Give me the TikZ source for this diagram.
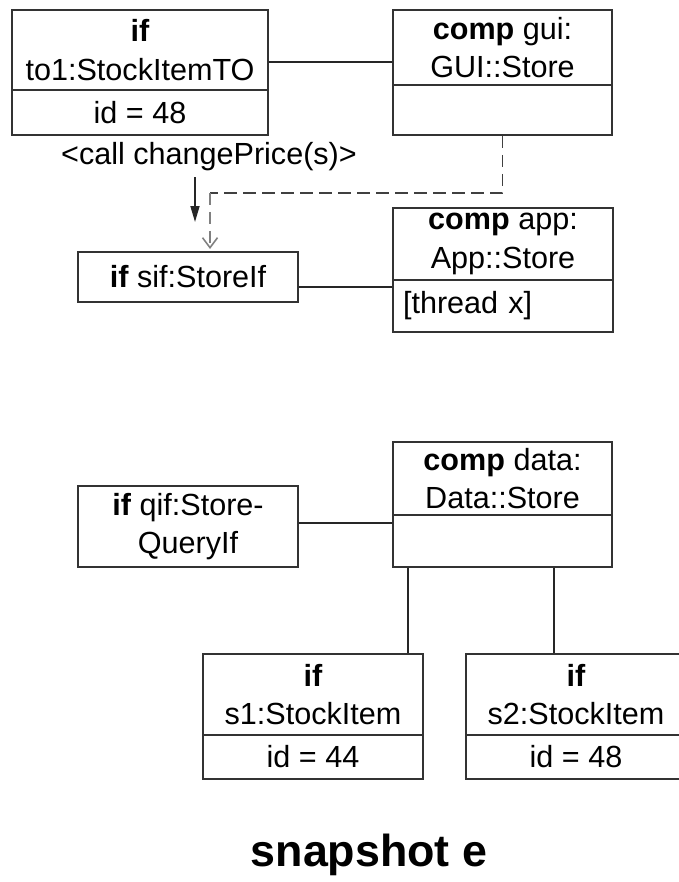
\documentclass[tikz,border=0pt]{standalone}
\usepackage{fontspec}
\setmainfont{Liberation Sans}
\usetikzlibrary{arrows.meta}
\tikzset{
  part/.style={draw=black!80, line width=0.9pt, inner sep=0pt, align=center,
    font=\fontsize{17.4}{22}\selectfont},
  link/.style={draw=black!85, line width=0.9pt},
  dep/.style={draw=black!75, line width=0.9pt, dash pattern=on 0.25cm off 0.13cm},
}
\begin{document}
\begin{tikzpicture}[x=0.02cm,y=-0.02cm]
  \useasboundingbox (0,0) rectangle (679,882);

  % upper snapshot part
  \node[part, minimum width=5.12cm, minimum height=1.6cm] (to1h) at (140,50) {\textbf{if}\\to1:StockItemTO};
  \node[part, minimum width=5.12cm, minimum height=0.9cm] (to1b) at (140,112.5) {id = 48};
  \node[part, minimum width=4.38cm, minimum height=1.5cm] (guih) at (502.5,47.5) {\textbf{comp} gui:\\GUI::Store};
  \node[part, minimum width=4.38cm, minimum height=1cm] (guib) at (502.5,110) {};

  \node[font=\fontsize{17.4}{22}\selectfont] (call) at (209,157) {<call changePrice(s)>};
  \coordinate (callend) at (195,222);
  \coordinate (bend) at (210,193);
  \coordinate (sifin) at (210,249);

  \node[part, minimum width=4.4cm, minimum height=1cm] (sif) at (188,277) {\textbf{if} sif:StoreIf};
  \node[part, minimum width=4.4cm, minimum height=1.44cm] (apph) at (503,244) {\textbf{comp} app:\\App::Store};
  \node[part, minimum width=4.4cm, minimum height=1.04cm, text width=4cm, inner xsep=0.2cm, align=left] (appb) at (503,306) {[thread x]};

  \draw[link] ([yshift=-0.24cm]to1h.east) -- ([yshift=-0.29cm]guih.west);
  \draw[link, -{Triangle[length=0.32cm, width=0.18cm]}] (call.south -| callend) -- (callend);
  \draw[dep] (guib.south) |- (bend);
  \draw[dep, draw=black!50, -{Straight Barb[length=0.2cm, width=0.3cm]}] (bend) -- (sifin);
  \draw[link] ([yshift=-0.2cm]sif.east) -- ([yshift=0.38cm]appb.west);

  % lower snapshot part
  \node[part, minimum width=4.38cm, minimum height=1.46cm] (datah) at (502.5,478.5) {\textbf{comp} data:\\Data::Store};
  \node[part, minimum width=4.38cm, minimum height=1.04cm] (datab) at (502.5,541) {};
  \node[part, minimum width=4.4cm, minimum height=1.62cm] (qif) at (188,526.5) {\textbf{if} qif:Store-\\QueryIf};

  \node[part, minimum width=4.4cm, minimum height=1.62cm] (s1h) at (313,694.5) {\textbf{if}\\s1:StockItem};
  \node[part, minimum width=4.4cm, minimum height=0.88cm] (s1b) at (313,757) {id = 44};
  \node[part, minimum width=4.4cm, minimum height=1.62cm] (s2h) at (576,694.5) {\textbf{if}\\s2:StockItem};
  \node[part, minimum width=4.4cm, minimum height=0.88cm] (s2b) at (576,757) {id = 48};

  \draw[link] ([yshift=0.07cm]qif.east) -- ([yshift=0.36cm]datab.west);
  \draw[link] ([xshift=-1.89cm]datab.south) -- ([xshift=-1.89cm]datab.south |- s1h.north);
  \draw[link] ([xshift=1.03cm]datab.south) -- ([xshift=1.03cm]datab.south |- s2h.north);

  \node[font=\bfseries\fontsize{25.5}{30}\selectfont] (title) at (369,855) {snapshot e};
\end{tikzpicture}
\end{document}
